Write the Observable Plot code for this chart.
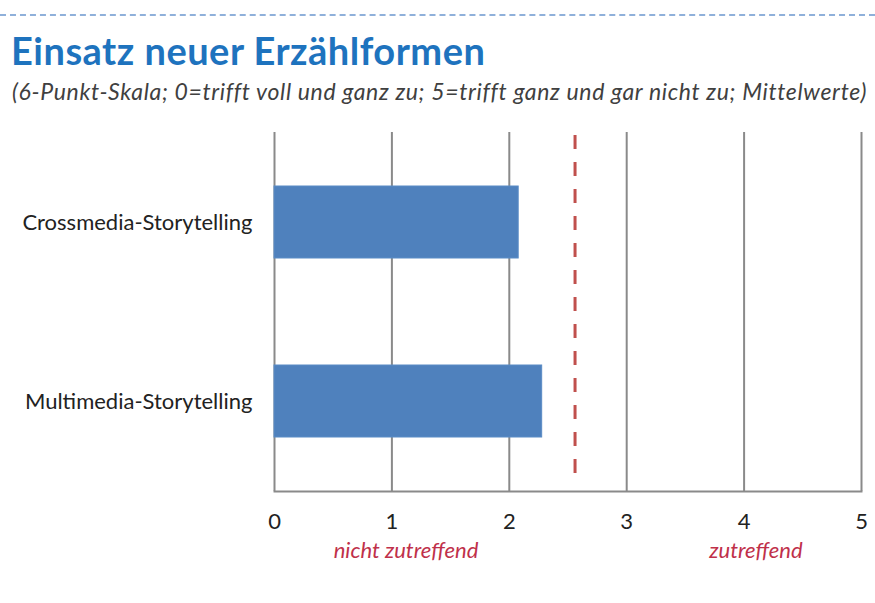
<!DOCTYPE html>
<html>
<head>
<meta charset="utf-8">
<script src="https://cdn.jsdelivr.net/npm/d3@7"></script>
<script src="https://cdn.jsdelivr.net/npm/@observablehq/plot@0.6"></script>
<style>
  html, body { margin: 0; padding: 0; background: #fff; }
  #page { position: relative; width: 875px; height: 603px; overflow: hidden; font-family: Lato, "Open Sans", sans-serif; }
  #topline { position: absolute; left: 0; top: 14px; width: 875px; height: 0; border-top: 2px dashed #8fb0da; }
  #title { position: absolute; left: 11px; top: 28px; font-size: 38px; line-height: 1.2; font-weight: bold; color: #1e73be; white-space: nowrap; letter-spacing: 0.5px; }
  #subtitle { position: absolute; left: 12px; top: 78px; font-size: 23px; line-height: 1.2; font-style: italic; color: #404040; white-space: nowrap; letter-spacing: 0.65px; }
  #chart { position: absolute; left: 0; top: 115px; }
</style>
</head>
<body>
<div id="page">
  <div id="topline"></div>
  <div id="title">Einsatz neuer Erzählformen</div>
  <div id="subtitle">(6-Punkt-Skala; 0=trifft voll und ganz zu; 5=trifft ganz und gar nicht zu; Mittelwerte)</div>
  <div id="chart"></div>
</div>
<script>
const categories = ["Crossmedia-Storytelling", "Multimedia-Storytelling"];
const values = [2.08, 2.28];
const referenceValue = [2.56];
const xTicks = [0, 1, 2, 3, 4, 5];
const scaleLabels = ["nicht zutreffend", "zutreffend"];
const scaleLabelPositions = [1.12, 4.1];

const bars = categories.map((c, i) => ({category: c, value: values[i]}));
const notes = scaleLabels.map((t, i) => ({label: t, x: scaleLabelPositions[i]}));

const chart = Plot.plot({
  width: 875,
  height: 488,
  marginTop: 17,
  marginBottom: 112,
  marginLeft: 274,
  marginRight: 14,
  style: {fontFamily: "Lato, 'Open Sans', sans-serif", fontSize: "22px", color: "#222", background: "transparent"},
  x: {domain: [0, 5], ticks: xTicks, label: null},
  y: {domain: categories, label: null, paddingInner: 0.6, paddingOuter: 0.3},
  marks: [
    Plot.gridX(xTicks, {stroke: "#8a8a8a", strokeOpacity: 1, strokeWidth: 2}),
    Plot.frame({anchor: "bottom", stroke: "#8a8a8a", strokeWidth: 2}),
    Plot.barX(bars, {x: "value", y: "category", fill: "#4f81bd", stroke: "#5b8cc6", strokeWidth: 1}),
    Plot.ruleX(referenceValue, {stroke: "#c0504d", strokeWidth: 3, strokeDasharray: "14 13", insetTop: 3, insetBottom: 11}),
    Plot.axisX({ticks: xTicks, tickFormat: d3.format("d"), tickSize: 0, tickPadding: 22, fill: "#222", fontSize: 22}),
    Plot.axisY({tickSize: 0, tickPadding: 22, fill: "#222", fontSize: 22}),
    Plot.text(notes, {x: "x", text: "label", frameAnchor: "bottom", dy: 66, fill: "#c0304a", fontStyle: "italic", fontSize: 22, letterSpacing: 1})
  ]
});
document.getElementById("chart").appendChild(chart);
</script>
</body>
</html>
